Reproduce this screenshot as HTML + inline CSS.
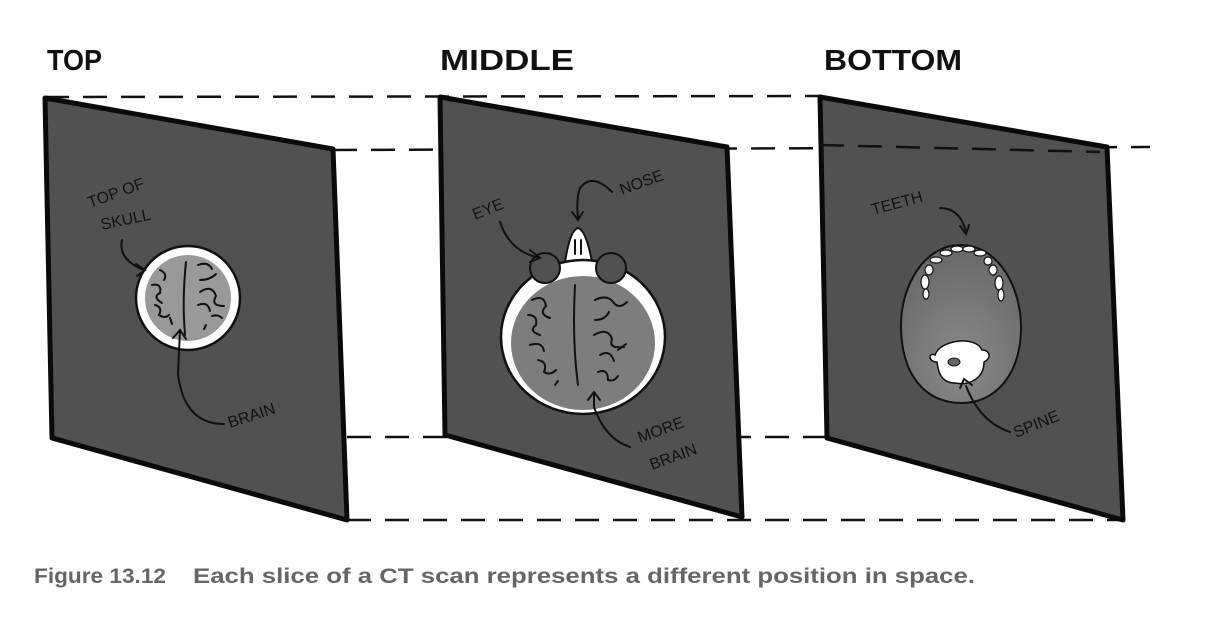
<!DOCTYPE html>
<html><head><meta charset="utf-8"><style>
html,body{margin:0;padding:0;background:#fff;width:1222px;height:626px;overflow:hidden}
svg{display:block}
.h{font-family:"Liberation Sans",sans-serif;font-weight:bold;fill:#111}
.l{font-family:"Liberation Sans",sans-serif;fill:#111;font-size:16px}
.w{fill:none;stroke:#111;stroke-width:2;stroke-linecap:round}
</style></head><body>
<svg width="1222" height="626" viewBox="0 0 1222 626">
<text class="h" x="47" y="70" font-size="29" textLength="55" lengthAdjust="spacingAndGlyphs">TOP</text>
<text class="h" x="440" y="70" font-size="29" textLength="134" lengthAdjust="spacingAndGlyphs">MIDDLE</text>
<text class="h" x="824" y="70" font-size="29" textLength="138" lengthAdjust="spacingAndGlyphs">BOTTOM</text>

<g stroke="#111" stroke-width="2.5" stroke-dasharray="24,14" fill="none">
<line x1="45" y1="97" x2="822" y2="96"/>
<line x1="333" y1="150" x2="1150" y2="147"/>
<line x1="347" y1="437" x2="830" y2="437"/>
<line x1="347" y1="520" x2="1123" y2="520"/>
</g>

<g stroke="#0a0a0a" stroke-width="5" stroke-linejoin="round" fill="#505150">
<path d="M45,98 L333,149 L347,520 L52,438 Z"/>
<path d="M440,97 L727,147 L742,517 L445,435 Z"/>
<path d="M820,97 L1107,147 L1123,520 L827,438 Z"/>
</g>
<g stroke="#111" stroke-width="2.5" stroke-dasharray="24,14"><line x1="820" y1="145" x2="1100" y2="152"/></g>

<!-- TOP -->
<circle cx="188" cy="298" r="52" fill="#fff" stroke="#111" stroke-width="2.5"/>
<circle cx="188" cy="298" r="43" fill="#999"/>
<path class="w" d="M186,262 Q182,300 185,335"/>
<path class="w" d="M160,270 q8,4 4,10 M152,285 q10,-2 8,8 q-8,4 2,10 M155,305 q8,2 4,10 q6,4 10,0 M170,318 l2,6 M198,265 q10,-4 14,4 M200,280 q10,0 16,-6 M200,292 q12,-8 16,4 q-6,10 8,10 M198,305 q10,-4 12,6 M212,316 q6,-2 10,2 M206,325 l-2,4"/>
<path class="w" d="M122,240 q-4,20 22,30"/><path class="w" d="M136,264 l9,6 l-8,6"/>
<path class="w" d="M224,424 q-40,0 -46,-50 l2,-44"/><path class="w" d="M173,338 l7,-8 l6,9"/>
<text class="l" transform="translate(90,208) rotate(-20)">TOP OF</text>
<text class="l" transform="translate(102,230) rotate(-12)">SKULL</text>
<text class="l" transform="translate(230,428) rotate(-18)">BRAIN</text>

<!-- MIDDLE -->
<path d="M565,262 Q570,230 578,228 Q586,230 592,262 Z" fill="#fff" stroke="#111" stroke-width="2"/>
<path class="w" d="M575,240 v14 M581,240 v14"/>
<ellipse cx="583" cy="337" rx="82" ry="77" fill="#fff" stroke="#111" stroke-width="2.5"/>
<ellipse cx="583" cy="343" rx="72" ry="67" fill="#7d7d7d"/>
<circle cx="545" cy="268" r="15" fill="#505150" stroke="#111" stroke-width="2"/>
<circle cx="611" cy="268" r="15" fill="#505150" stroke="#111" stroke-width="2"/>
<path class="w" d="M575,285 Q572,340 578,385"/>
<path class="w" d="M532,300 q12,-6 14,6 q-8,8 4,12 M528,315 q10,0 8,10 q-8,6 4,10 M530,345 q12,-4 14,6 M538,360 q10,2 6,12 q6,4 12,-2 M555,385 l3,-4 M595,300 q12,-6 18,2 q6,8 14,0 M595,320 q10,0 14,-8 M594,335 q14,-8 18,4 q-4,10 12,8 M600,355 q10,-6 14,6 M598,372 q10,-4 10,8 q6,2 10,-4 M618,350 l8,-6"/>
<path class="w" d="M500,222 q10,30 40,36"/><path class="w" d="M530,250 l10,8 l-10,4"/>
<path class="w" d="M612,192 q-20,-20 -32,-4 q-4,10 -2,30"/><path class="w" d="M572,212 l6,8 l5,-8"/>
<path class="w" d="M630,447 q-25,-8 -36,-40 l0,-14"/><path class="w" d="M588,400 l6,-8 l6,8"/>
<text class="l" transform="translate(475,220) rotate(-22)">EYE</text>
<text class="l" transform="translate(622,195) rotate(-20)">NOSE</text>
<text class="l" transform="translate(640,443) rotate(-20)">MORE</text>
<text class="l" transform="translate(652,470) rotate(-20)">BRAIN</text>

<!-- BOTTOM -->
<defs><radialGradient id="g" cx="0.5" cy="0.75" r="0.7"><stop offset="0" stop-color="#8a8a8a"/><stop offset="1" stop-color="#6a6a6a"/></radialGradient></defs>
<path d="M960,245 C1000,245 1022,290 1021,330 C1020,375 995,403 962,403 C925,403 901,375 901,325 C901,285 925,245 960,245 Z" fill="url(#g)" stroke="#111" stroke-width="2"/>
<g fill="#fff" stroke="#111" stroke-width="1.2">
<ellipse cx="925" cy="282" rx="4" ry="7"/><ellipse cx="929" cy="270" rx="4" ry="5"/><ellipse cx="936" cy="260" rx="6" ry="3"/><ellipse cx="946" cy="253" rx="6" ry="3"/><ellipse cx="957" cy="249" rx="6" ry="3"/><ellipse cx="969" cy="249" rx="6" ry="3"/><ellipse cx="980" cy="253" rx="6" ry="3"/><ellipse cx="988" cy="261" rx="4" ry="4"/><ellipse cx="993" cy="270" rx="4" ry="5"/><ellipse cx="999" cy="283" rx="4" ry="7"/><ellipse cx="1001" cy="295" rx="3" ry="6"/><ellipse cx="926" cy="294" rx="3" ry="5"/>
</g>
<path d="M935,355 C940,340 975,335 982,350 C990,350 992,358 984,362 C984,378 970,386 955,383 C940,383 938,370 937,362 C928,362 928,352 935,355 Z" fill="#fff" stroke="#111" stroke-width="1.5"/>
<ellipse cx="954" cy="362" rx="6" ry="4" fill="#666" stroke="#111"/>
<path class="w" d="M1010,432 q-30,-10 -44,-46"/><path class="w" d="M960,388 l4,-9 l8,6"/>
<path class="w" d="M940,208 q20,0 26,24"/><path class="w" d="M960,226 l6,8 l3,-9"/>
<text class="l" transform="translate(873,215) rotate(-15)">TEETH</text>
<text class="l" transform="translate(1016,438) rotate(-22)">SPINE</text>

<text x="34" y="583" font-family="Liberation Sans,sans-serif" font-weight="bold" font-size="21" fill="#666" textLength="132" lengthAdjust="spacingAndGlyphs">Figure 13.12</text>
<text x="193" y="583" font-family="Liberation Sans,sans-serif" font-weight="bold" font-size="21" fill="#666" textLength="782" lengthAdjust="spacingAndGlyphs">Each slice of a CT scan represents a different position in space.</text>
</svg>
</body></html>
